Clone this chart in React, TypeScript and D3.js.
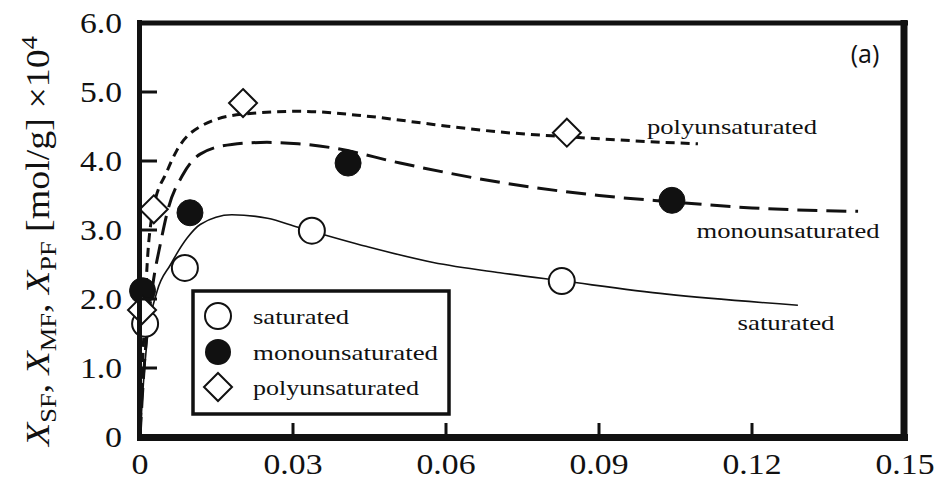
import React from "react";
import * as d3 from "d3";

const W = 937;
const H = 480;

const xTicks = [0, 0.03, 0.06, 0.09, 0.12, 0.15];
const xTickLabels = ["0", "0.03", "0.06", "0.09", "0.12", "0.15"];
const yTicks = [0, 1, 2, 3, 4, 5, 6];
const yTickLabels = ["0", "1.0", "2.0", "3.0", "4.0", "5.0", "6.0"];

// measured points
const satX = [0.001, 0.0088, 0.0337, 0.0827];
const satY = [1.64, 2.45, 2.99, 2.26];
const monoX = [0.0005, 0.0098, 0.0408, 0.1043];
const monoY = [2.12, 3.25, 3.97, 3.43];
const polyX = [0.0004, 0.0027, 0.0202, 0.0837];
const polyY = [1.84, 3.3, 4.84, 4.41];

// fitted curves
const satCurveX = [0, 0.0005, 0.0014, 0.0033, 0.006, 0.0092, 0.0118, 0.018, 0.025, 0.031, 0.0445, 0.0575, 0.0706, 0.083, 0.1033, 0.129];
const satCurveY = [0, 0.6, 1.4, 2.1, 2.5, 2.88, 3.08, 3.22, 3.17, 3.04, 2.76, 2.53, 2.38, 2.26, 2.07, 1.91];
const monoCurveX = [0, 0.001, 0.0025, 0.004, 0.0055, 0.0084, 0.0118, 0.018, 0.0249, 0.031, 0.0378, 0.051, 0.0706, 0.09, 0.104, 0.12, 0.1408];
const monoCurveY = [0, 1.2, 2.2, 2.8, 3.3, 3.8, 4.1, 4.24, 4.27, 4.25, 4.19, 3.97, 3.69, 3.5, 3.41, 3.32, 3.27];
const polyCurveX = [0, 0.0007, 0.0014, 0.0026, 0.0053, 0.0072, 0.0118, 0.0202, 0.0314, 0.0445, 0.0575, 0.0706, 0.084, 0.1, 0.1094];
const polyCurveY = [0, 1.4, 2.5, 3.3, 3.85, 4.15, 4.5, 4.68, 4.72, 4.65, 4.53, 4.42, 4.35, 4.28, 4.25];

const seriesNames = ["saturated", "monounsaturated", "polyunsaturated"];

const x = d3.scaleLinear().domain([0, 0.15]).range([140, 905]);
const y = d3.scaleLinear().domain([0, 6]).range([437, 23]);

const line = d3
  .line<[number, number]>()
  .x((d) => x(d[0]))
  .y((d) => y(d[1]))
  .curve(d3.curveMonotoneX);

const zip = (a: number[], b: number[]) => a.map((v, i) => [v, b[i]] as [number, number]);

const serif = "'Liberation Serif', 'DejaVu Serif', serif";
const ink = "#111";

function Diamond({ cx, cy, r, sw = 2 }: { cx: number; cy: number; r: number; sw?: number }) {
  const p = `M${cx},${cy - r}L${cx + r},${cy}L${cx},${cy + r}L${cx - r},${cy}Z`;
  return <path d={p} fill="#fff" stroke={ink} strokeWidth={sw} />;
}

function tickLabelLen(s: string) {
  if (s.length === 1) return 17;
  if (s.length === 3) return 42;
  return 59;
}

export default function App() {
  return (
    <svg
      width={W}
      height={H}
      style={{ position: "absolute", left: 0, top: 0, background: "#fff" }}
      fontFamily={serif}
    >
      <rect width={W} height={H} fill="#fff" />

      {/* curves */}
      <path d={line(zip(satCurveX, satCurveY)) || ""} fill="none" stroke={ink} strokeWidth={1.6} />
      <path d={line(zip(monoCurveX, monoCurveY)) || ""} fill="none" stroke={ink} strokeWidth={3} strokeDasharray="20,9" />
      <path d={line(zip(polyCurveX, polyCurveY)) || ""} fill="none" stroke={ink} strokeWidth={3} strokeDasharray="9,6" />

      {/* markers */}
      {satX.map((v, i) => (
        <circle key={"s" + i} cx={x(v)} cy={y(satY[i])} r={13} fill="#fff" stroke={ink} strokeWidth={2} />
      ))}
      {monoX.map((v, i) => (
        <circle key={"m" + i} cx={x(v)} cy={y(monoY[i])} r={13} fill={ink} stroke={ink} strokeWidth={1} />
      ))}
      {polyX.map((v, i) => (
        <Diamond key={"p" + i} cx={x(v)} cy={y(polyY[i])} r={14} />
      ))}

      {/* ticks */}
      {yTicks.slice(1, -1).map((t) => (
        <line key={"yt" + t} x1={140} x2={157} y1={y(t)} y2={y(t)} stroke={ink} strokeWidth={3} />
      ))}
      {xTicks.slice(1, -1).map((t) => (
        <line key={"xt" + t} x1={x(t)} x2={x(t)} y1={437} y2={423} stroke={ink} strokeWidth={3} />
      ))}

      {/* frame */}
      <line x1={139.5} x2={139.5} y1={20} y2={441} stroke={ink} strokeWidth={5} />
      <line x1={137} x2={908} y1={23} y2={23} stroke={ink} strokeWidth={5} />
      <line x1={904} x2={904} y1={20} y2={441} stroke={ink} strokeWidth={7} />
      <line x1={137} x2={908} y1={437.5} y2={437.5} stroke={ink} strokeWidth={7} />

      {/* tick labels */}
      {yTicks.map((t, i) => (
        <text
          key={"yl" + t}
          x={122}
          y={y(t)}
          textAnchor="end"
          dominantBaseline="central"
          fontSize={29}
          fill={ink}
          textLength={tickLabelLen(yTickLabels[i])}
          lengthAdjust="spacingAndGlyphs"
        >
          {yTickLabels[i]}
        </text>
      ))}
      {xTicks.map((t, i) => (
        <text
          key={"xl" + t}
          x={x(t)}
          y={464}
          textAnchor="middle"
          dominantBaseline="central"
          fontSize={29}
          fill={ink}
          textLength={tickLabelLen(xTickLabels[i])}
          lengthAdjust="spacingAndGlyphs"
        >
          {xTickLabels[i]}
        </text>
      ))}

      {/* y-axis title */}
      <text
        transform="translate(49,241) rotate(-90)"
        textAnchor="middle"
        fontSize={33}
        fill={ink}
        textLength={410}
        lengthAdjust="spacingAndGlyphs"
      >
        <tspan fontStyle="italic">X</tspan>
        <tspan fontSize={23} dy={7}>SF</tspan>
        <tspan dy={-7}>, </tspan>
        <tspan fontStyle="italic">X</tspan>
        <tspan fontSize={23} dy={7}>MF</tspan>
        <tspan dy={-7}>, </tspan>
        <tspan fontStyle="italic">X</tspan>
        <tspan fontSize={23} dy={7}>PF</tspan>
        <tspan dy={-7}> [mol/g] ×10</tspan>
        <tspan fontSize={23} dy={-12}>4</tspan>
      </text>

      {/* curve labels */}
      <text x={732} y={126} textAnchor="middle" dominantBaseline="central" fontSize={22} fill={ink} textLength={170} lengthAdjust="spacingAndGlyphs">
        {seriesNames[2]}
      </text>
      <text x={788} y={230} textAnchor="middle" dominantBaseline="central" fontSize={22} fill={ink} textLength={183} lengthAdjust="spacingAndGlyphs">
        {seriesNames[1]}
      </text>
      <text x={786} y={322} textAnchor="middle" dominantBaseline="central" fontSize={22} fill={ink} textLength={97} lengthAdjust="spacingAndGlyphs">
        {seriesNames[0]}
      </text>

      {/* (a) */}
      <text x={865} y={53} textAnchor="middle" dominantBaseline="central" fontSize={25} fill={ink} fontFamily="'Open Sans', 'Liberation Sans', sans-serif">
        (a)
      </text>

      {/* legend */}
      <rect x={193} y={291} width={256} height={123} fill="#fff" stroke={ink} strokeWidth={3.5} />
      <circle cx={218} cy={316} r={13} fill="#fff" stroke={ink} strokeWidth={2} />
      <circle cx={218} cy={352} r={13} fill={ink} />
      <Diamond cx={218} cy={387} r={14} />
      {[316, 352, 387].map((cy, i) => (
        <text
          key={"lg" + i}
          x={253}
          y={cy}
          dominantBaseline="central"
          fontSize={22}
          fill={ink}
          textLength={[96, 185, 166][i]}
          lengthAdjust="spacingAndGlyphs"
        >
          {seriesNames[i]}
        </text>
      ))}
    </svg>
  );
}
